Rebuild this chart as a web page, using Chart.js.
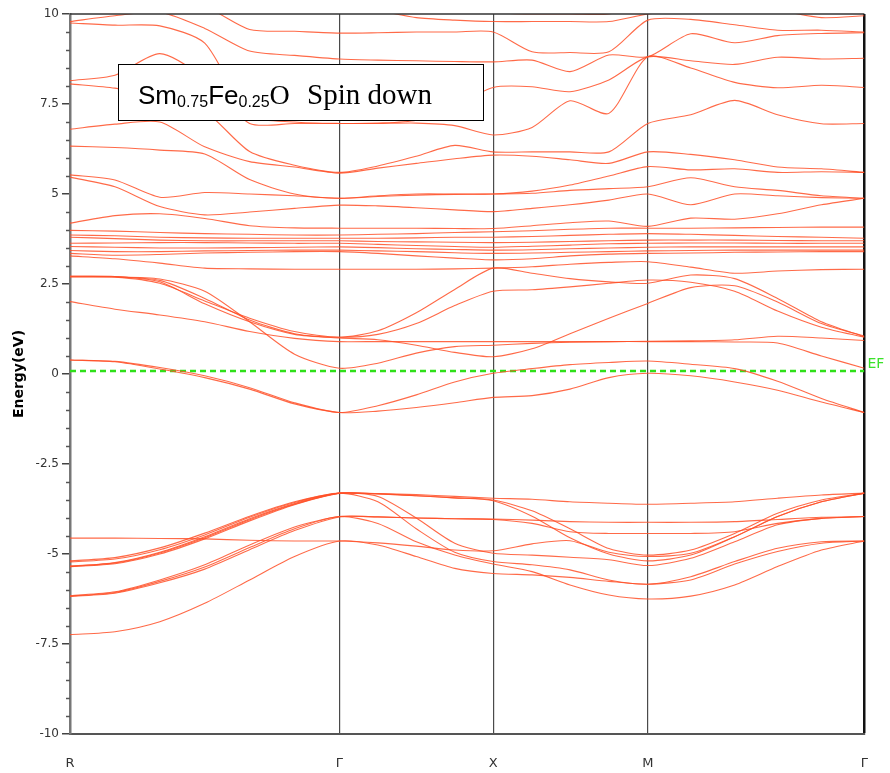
<!DOCTYPE html>
<html>
<head>
<meta charset="utf-8">
<script src="https://cdn.jsdelivr.net/npm/chart.js@4/dist/chart.umd.min.js"></script>
<style>
  html, body { margin: 0; padding: 0; background: #fff; }
  #wrap { width: 890px; height: 773px; }
</style>
</head>
<body>
<div id="wrap"><canvas id="bands" width="890" height="773"></canvas></div>
<script>
// k-path distances (R - Γ - X - M - Γ) and the sampled k points
const kPoints = [0, 0.45, 0.9, 1.35, 1.8, 2.25, 2.7, 3.085, 3.47, 3.855, 4.24, 4.63, 5.01, 5.40, 5.79, 6.22, 6.66, 7.09, 7.53, 7.96]
const kLabelPos = [0, 2.7, 4.24, 5.79, 7.96]
const kLabels = ['R', 'Γ', 'X', 'M', 'Γ']
const fermiLevel = 0.08

// valence bands (eV)
const valenceBands = [
  [-5.19,-5.10,-4.83,-4.42,-3.95,-3.55,-3.31, -3.32,-3.35,-3.40,-3.45, -3.48,-3.55,-3.59,-3.62, -3.59,-3.55,-3.45,-3.36,-3.31],
  [-5.35,-5.24,-4.95,-4.52,-4.02,-3.60,-3.31, -3.33,-3.38,-3.44,-3.50, -3.80,-4.30,-4.85,-5.03, -4.89,-4.43,-3.87,-3.50,-3.31],
  [-5.35,-5.27,-5.00,-4.58,-4.08,-3.63,-3.32, -3.33,-3.38,-3.44,-3.52, -3.95,-4.55,-5.00,-5.19, -5.03,-4.52,-3.96,-3.55,-3.31],
  [-5.33,-5.25,-4.97,-4.55,-4.05,-3.62,-3.31, -3.40,-4.00,-4.70,-4.98, -5.03,-5.09,-5.16,-5.32, -5.12,-4.66,-4.19,-4.01,-3.96],
  [-5.22,-5.14,-4.88,-4.47,-3.98,-3.57,-3.31, -3.55,-4.30,-4.95,-5.21, -5.30,-5.44,-5.72,-5.84, -5.63,-5.21,-4.84,-4.66,-4.64],
  [-6.16,-6.05,-5.72,-5.30,-4.75,-4.25,-3.96, -3.97,-4.00,-4.02,-4.03, -4.06,-4.10,-4.12,-4.12, -4.12,-4.10,-4.04,-3.98,-3.96],
  [-6.18,-6.09,-5.80,-5.42,-4.88,-4.35,-3.97, -3.97,-4.00,-4.02,-4.04, -4.15,-4.38,-4.43,-4.43, -4.43,-4.38,-4.15,-4.01,-3.96],
  [-6.17,-6.07,-5.76,-5.36,-4.82,-4.30,-3.96, -4.15,-4.66,-5.03,-5.28, -5.49,-5.86,-6.14,-6.25, -6.17,-5.86,-5.35,-4.89,-4.64],
  [-4.56,-4.56,-4.57,-4.58,-4.62,-4.64,-4.64, -4.69,-4.78,-4.89,-4.91, -4.72,-4.63,-4.95,-5.07, -4.98,-4.52,-3.96,-3.55,-3.31],
  [-7.24,-7.16,-6.88,-6.37,-5.72,-5.07,-4.64, -4.75,-5.07,-5.40,-5.54, -5.58,-5.65,-5.76,-5.84, -5.72,-5.28,-4.93,-4.70,-4.64]
]

// bands around the Fermi level and up to ~3 eV
const lowBands = [
  [0.39,0.35,0.18,-0.05,-0.38,-0.80,-1.07, -0.88,-0.58,-0.22,0.02, 0.15,0.26,0.32,0.36, 0.27,0.15,-0.20,-0.68,-1.07],
  [0.39,0.34,0.14,-0.10,-0.42,-0.83,-1.07, -1.03,-0.93,-0.80,-0.65, -0.60,-0.42,-0.10,0.02, -0.05,-0.22,-0.45,-0.78,-1.07],
  [2.70,2.70,2.64,2.30,1.45,0.55,0.16, 0.30,0.58,0.76,0.80, 0.85,0.88,0.90,0.90, 0.90,0.89,0.86,0.50,0.16],
  [2.70,2.69,2.52,2.03,1.55,1.18,1.02, 1.20,1.70,2.35,2.94, 2.80,2.65,2.56,2.52, 2.75,2.65,2.10,1.45,1.03],
  [2.70,2.70,2.60,2.10,1.50,1.12,1.02, 1.10,1.40,1.90,2.30, 2.34,2.42,2.52,2.61, 2.55,2.30,1.75,1.30,1.02],
  [2.72,2.71,2.56,1.95,1.45,1.10,1.00, 0.95,0.80,0.60,0.48, 0.70,1.12,1.55,1.96, 2.40,2.45,2.00,1.40,1.05],
  [2.01,1.80,1.64,1.45,1.18,0.99,0.90, 0.90,0.90,0.90,0.90, 0.90,0.90,0.90,0.91, 0.92,0.95,1.05,1.00,0.93],
  [3.28,3.20,3.08,2.94,2.92,2.91,2.91, 2.91,2.91,2.92,2.94, 2.98,3.05,3.10,3.12, 2.97,2.80,2.86,2.90,2.91]
]

// dense group between 3.2 and 4.5 eV
const clusterBands = [
  [4.19,4.40,4.45,4.32,4.12,4.06,4.05, 4.05,4.05,4.04,4.04, 4.12,4.20,4.25,4.10, 4.33,4.30,4.45,4.70,4.88],
  [3.99,3.97,3.93,3.90,3.88,3.86,3.86, 3.88,3.90,3.93,3.95, 3.98,4.02,4.05,4.05, 4.05,4.06,4.07,4.08,4.08],
  [3.86,3.84,3.80,3.78,3.77,3.77,3.77, 3.77,3.78,3.80,3.80, 3.82,3.85,3.88,3.90, 3.88,3.85,3.82,3.80,3.77],
  [3.80,3.76,3.72,3.70,3.70,3.70,3.70, 3.68,3.67,3.66,3.65, 3.66,3.68,3.70,3.72, 3.72,3.72,3.71,3.70,3.70],
  [3.63,3.64,3.65,3.65,3.64,3.63,3.63, 3.60,3.57,3.54,3.52, 3.55,3.58,3.62,3.63, 3.64,3.64,3.63,3.63,3.63],
  [3.54,3.52,3.50,3.50,3.51,3.52,3.53, 3.51,3.48,3.46,3.44, 3.45,3.48,3.50,3.52, 3.53,3.53,3.53,3.53,3.53],
  [3.43,3.40,3.40,3.42,3.43,3.44,3.44, 3.42,3.40,3.37,3.35, 3.36,3.38,3.40,3.42, 3.43,3.44,3.44,3.44,3.44],
  [3.35,3.30,3.32,3.36,3.38,3.40,3.40, 3.35,3.28,3.22,3.17, 3.20,3.28,3.33,3.35, 3.36,3.38,3.39,3.40,3.40]
]

// upper conduction bands
const upperBands = [
  [5.47,5.20,4.65,4.42,4.50,4.60,4.69, 4.67,4.62,4.56,4.51, 4.60,4.70,4.83,5.00, 4.70,5.00,4.95,4.90,4.88],
  [5.53,5.39,4.91,5.04,5.00,4.95,4.88, 4.93,4.97,4.99,5.00, 5.02,5.10,5.15,5.20, 5.45,5.20,5.10,4.95,4.88],
  [6.33,6.29,6.22,6.11,5.40,5.00,4.88, 4.95,5.00,5.00,5.00, 5.08,5.25,5.50,5.76, 5.67,5.70,5.60,5.62,5.60],
  [6.80,6.94,7.00,6.31,5.90,5.75,5.58, 5.72,5.85,5.98,6.08, 6.05,5.95,5.85,6.17, 6.10,5.95,5.75,5.70,5.60],
  [8.06,7.94,7.70,7.30,6.18,5.80,5.60, 5.78,6.05,6.35,6.17, 6.17,6.17,6.17,6.96, 7.20,7.60,7.20,6.95,6.96],
  [8.15,8.30,8.90,8.20,6.96,6.96,6.96, 6.96,6.97,6.90,6.64, 6.85,7.59,7.24,8.81, 8.50,8.10,7.95,8.02,7.96],
  [9.75,9.69,9.67,9.19,7.20,7.00,6.96, 6.97,7.05,7.45,7.96, 7.98,7.84,8.17,8.81, 8.70,8.60,8.80,8.75,8.77],
  [9.79,9.95,10.05,9.60,8.97,8.85,8.75, 8.72,8.70,8.68,8.67, 8.72,8.40,8.86,8.81, 9.45,9.20,9.40,9.46,9.48],
  [10.3,10.3,10.3,10.2,9.57,9.52,9.47, 9.48,9.50,9.50,9.50, 8.95,8.93,8.95,9.83, 9.85,9.70,9.55,9.55,9.50],
  [10.6,10.6,10.6,10.6,10.4,10.4,10.3, 10.1,9.90,9.83,9.79, 9.79,9.79,9.79,10.0, 10.1,10.2,10.1,9.90,9.95],
  [11.0,11.0,11.0,11.0,11.0,11.0,11.0, 10.8,10.5,10.2,10.04, 10.0,10.0,10.0,10.3, 10.4,10.4,10.4,10.3,10.3]
]

const bandColor = 'rgba(255, 80, 40, 0.85)'
const allBands = [...valenceBands, ...lowBands, ...clusterBands, ...upperBands]

const datasets = allBands.map(band => ({
  data: band.map((e, i) => ({ x: kPoints[i], y: e })),
  borderColor: bandColor,
  borderWidth: 1.1,
  pointRadius: 0,
  tension: 0.25,
  fill: false
}))

// Fermi level
datasets.push({
  data: [{ x: 0, y: fermiLevel }, { x: kLabelPos[kLabelPos.length - 1], y: fermiLevel }],
  borderColor: '#2fe01a',
  borderWidth: 2.5,
  borderDash: [6, 4],
  pointRadius: 0,
  fill: false
})

const framePlugin = {
  id: 'frame',
  afterDraw(chart) {
    const ctx = chart.ctx
    const area = chart.chartArea
    const y = chart.scales.y
    ctx.save()
    // minor ticks every 0.5 eV
    ctx.strokeStyle = '#555'
    ctx.lineWidth = 1.5
    for (let v = -10; v <= 10.001; v += 0.5) {
      if (Math.abs(v / 2.5 - Math.round(v / 2.5)) < 1e-6) continue
      const py = Math.round(y.getPixelForValue(v)) + 0.5
      ctx.beginPath()
      ctx.moveTo(area.left - 4, py)
      ctx.lineTo(area.left, py)
      ctx.stroke()
    }
    // top border
    ctx.strokeStyle = '#333'
    ctx.lineWidth = 1.5
    ctx.beginPath()
    ctx.moveTo(area.left, area.top)
    ctx.lineTo(area.right, area.top)
    ctx.stroke()

    // EF label
    ctx.fillStyle = '#3be22a'
    ctx.font = '14px "DejaVu Sans"'
    ctx.textBaseline = 'middle'
    ctx.fillText('EF', area.right + 3, y.getPixelForValue(fermiLevel) - 7)

    // title box
    const bx = 118, by = 64, bw = 365, bh = 56
    ctx.fillStyle = '#fff'
    ctx.fillRect(bx, by, bw, bh)
    ctx.strokeStyle = '#000'
    ctx.lineWidth = 1
    ctx.strokeRect(bx + 0.5, by + 0.5, bw, bh)
    ctx.fillStyle = '#000'
    ctx.textBaseline = 'alphabetic'
    const parts = [
      ['Sm', '26px "Liberation Sans"', 104],
      ['0.75', '16px "Liberation Sans"', 107],
      ['Fe', '26px "Liberation Sans"', 104],
      ['0.25', '16px "Liberation Sans"', 107],
      ['O', '28px "Liberation Serif"', 104]
    ]
    let tx = 138
    parts.forEach(([t, f, base]) => {
      ctx.font = f
      ctx.fillText(t, tx, base)
      tx += ctx.measureText(t).width
    })
    ctx.font = '29px "Liberation Serif"'
    ctx.fillText('Spin down', 307, 104)
    ctx.restore()
  }
}

new Chart(document.getElementById('bands'), {
  type: 'line',
  data: { datasets },
  options: {
    responsive: false,
    devicePixelRatio: 1,
    animation: false,
    layout: { padding: { left: 11, right: 24, top: 14, bottom: 0 } },
    plugins: { legend: { display: false }, tooltip: { enabled: false } },
    scales: {
      x: {
        type: 'linear',
        min: 0,
        max: kLabelPos[kLabelPos.length - 1],
        afterBuildTicks: scale => { scale.ticks = kLabelPos.map(v => ({ value: v })) },
        afterFit: scale => { scale.height = 39 },
        border: { display: true, color: '#555', width: 2 },
        grid: {
          drawTicks: false,
          color: c => c.index === 0 ? 'rgba(0,0,0,0)' : (c.index === kLabelPos.length - 1 ? '#111' : '#4a4a4a'),
          lineWidth: c => c.index === kLabelPos.length - 1 ? 2.5 : 1.2
        },
        ticks: {
          autoSkip: false,
          maxRotation: 0,
          padding: 22,
          color: '#333',
          font: { family: '"DejaVu Sans"', size: 13 },
          callback: (v, i) => kLabels[i]
        }
      },
      y: {
        min: -10,
        max: 10,
        afterFit: scale => { scale.width = 59 },
        border: { display: true, color: '#777', width: 2.5 },
        grid: { drawOnChartArea: false, color: '#444', lineWidth: 1.5, tickLength: 8 },
        ticks: {
          stepSize: 2.5,
          padding: 3,
          color: '#333',
          font: { family: '"DejaVu Sans"', size: 12 }
        },
        title: {
          display: true,
          text: 'Energy(eV)',
          color: '#000',
          font: { family: '"DejaVu Sans"', size: 14, weight: 'bold' },
          padding: { top: 0, bottom: 4 }
        }
      }
    }
  },
  plugins: [framePlugin]
})
</script>
</body>
</html>
